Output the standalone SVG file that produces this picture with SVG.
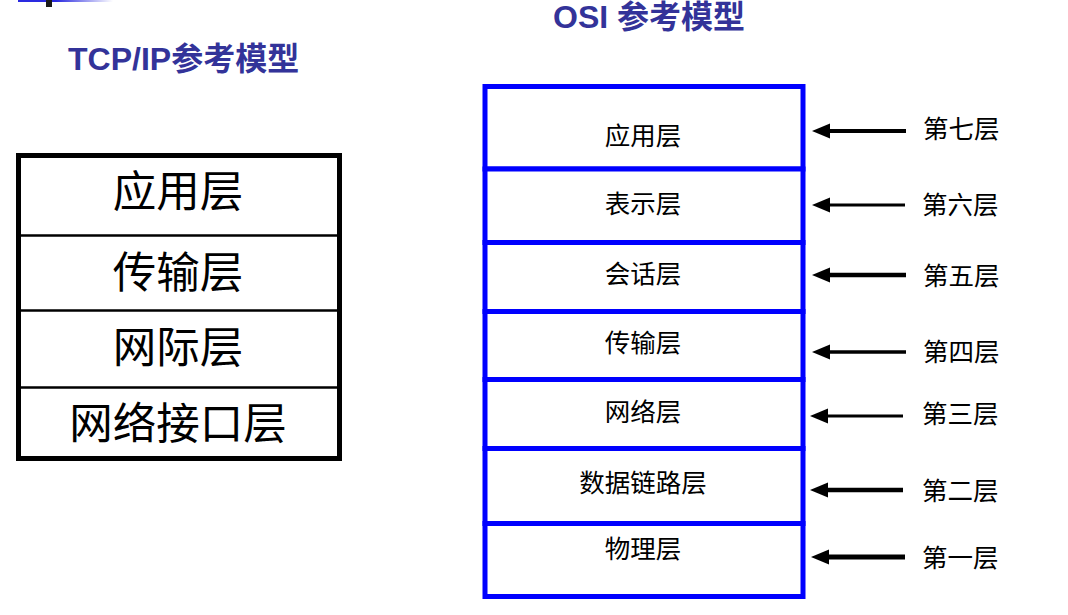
<svg xmlns="http://www.w3.org/2000/svg" width="1068" height="615" viewBox="0 0 1068 615">
<defs>
<linearGradient id="fade" x1="0" y1="0" x2="1" y2="0">
<stop offset="0" stop-color="#2a2ae0"/>
<stop offset="0.4" stop-color="#2a2ae0"/>
<stop offset="1" stop-color="#ffffff"/>
</linearGradient>
<marker id="ah" markerUnits="userSpaceOnUse" markerWidth="20" markerHeight="16" viewBox="0 0 20 16" refX="4" refY="7.5" orient="auto">
<path d="M0,0 L18,7.5 L0,15 z" fill="#000"/>
</marker>
<style>
.title{font-family:"Liberation Sans","Noto Sans CJK SC",sans-serif;font-weight:bold;font-size:32px;fill:#333399}
.tcp{font-family:"Liberation Serif","Noto Sans CJK SC",serif;font-size:43.5px;fill:#000;text-anchor:middle}
.osi{font-family:"Liberation Serif","Noto Sans CJK SC",serif;font-size:25.5px;fill:#000;text-anchor:middle}
.lbl{font-family:"Liberation Serif","Noto Sans CJK SC",serif;font-size:25.5px;fill:#000}
.tbox{fill:#fff;stroke:#000;stroke-width:5}
.tdiv{stroke:#000;stroke-width:2.5}
.obox{fill:#fff;stroke:#0000ff;stroke-width:5}
.arr{stroke:#000;fill:none;marker-end:url(#ah)}
</style>
</defs>
<rect width="1068" height="615" fill="#fff"/>
<g id="decor">
<rect x="18" y="0" width="95" height="2" fill="url(#fade)"/>
<rect x="46" y="0" width="6" height="7" fill="#1a1a1a"/>
</g>
<g id="titles">
<text class="title" x="68" y="70">TCP/IP参考模型</text>
<text class="title" x="553" y="28" font-size="33">OSI 参考模型</text>
</g>
<g id="tcpip">
<rect class="tbox" x="18.5" y="155.5" width="321" height="303"/>
<line class="tdiv" x1="18.5" y1="235.5" x2="339.5" y2="235.5"/>
<line class="tdiv" x1="18.5" y1="310.5" x2="339.5" y2="310.5"/>
<line class="tdiv" x1="18.5" y1="387.5" x2="339.5" y2="387.5"/>
<g id="tcp-app"><text class="tcp" x="178" y="207">应用层</text></g>
<g id="tcp-trans"><text class="tcp" x="178" y="288">传输层</text></g>
<g id="tcp-inet"><text class="tcp" x="178" y="363">网际层</text></g>
<g id="tcp-link"><text class="tcp" x="178" y="439">网络接口层</text></g>
</g>
<g id="osi">
<g id="osi7"><rect class="obox" x="485" y="86.5" width="318" height="82.5"/><text class="osi" x="643" y="145">应用层</text></g>
<g id="osi6"><rect class="obox" x="485" y="169" width="318" height="73.5"/><text class="osi" x="643" y="213">表示层</text></g>
<g id="osi5"><rect class="obox" x="485" y="242.5" width="318" height="69"/><text class="osi" x="643" y="283">会话层</text></g>
<g id="osi4"><rect class="obox" x="485" y="311.5" width="318" height="68"/><text class="osi" x="643" y="352">传输层</text></g>
<g id="osi3"><rect class="obox" x="485" y="379.5" width="318" height="69"/><text class="osi" x="643" y="421">网络层</text></g>
<g id="osi2"><rect class="obox" x="485" y="448.5" width="318" height="75"/><text class="osi" x="643" y="492">数据链路层</text></g>
<g id="osi1"><rect class="obox" x="485" y="523.5" width="318" height="73"/><text class="osi" x="643" y="558">物理层</text></g>
</g>
<g id="connectors">
<line class="arr" x1="906" y1="131" x2="826" y2="131" stroke-width="4"/>
<line class="arr" x1="905" y1="205" x2="826" y2="205" stroke-width="3"/>
<line class="arr" x1="906" y1="275" x2="826" y2="275" stroke-width="4.5"/>
<line class="arr" x1="906" y1="352" x2="826" y2="352" stroke-width="3.5"/>
<line class="arr" x1="903" y1="416" x2="824" y2="416" stroke-width="3"/>
<line class="arr" x1="903" y1="490" x2="824" y2="490" stroke-width="4.5"/>
<line class="arr" x1="905" y1="557" x2="825" y2="557" stroke-width="5"/>
</g>
<g id="labels">
<g id="l7"><text class="lbl" x="923" y="138">第七层</text></g>
<g id="l6"><text class="lbl" x="922" y="214">第六层</text></g>
<g id="l5"><text class="lbl" x="923" y="285">第五层</text></g>
<g id="l4"><text class="lbl" x="923" y="361">第四层</text></g>
<g id="l3"><text class="lbl" x="922" y="423">第三层</text></g>
<g id="l2"><text class="lbl" x="922" y="500">第二层</text></g>
<g id="l1"><text class="lbl" x="922" y="567">第一层</text></g>
</g>
</svg>
